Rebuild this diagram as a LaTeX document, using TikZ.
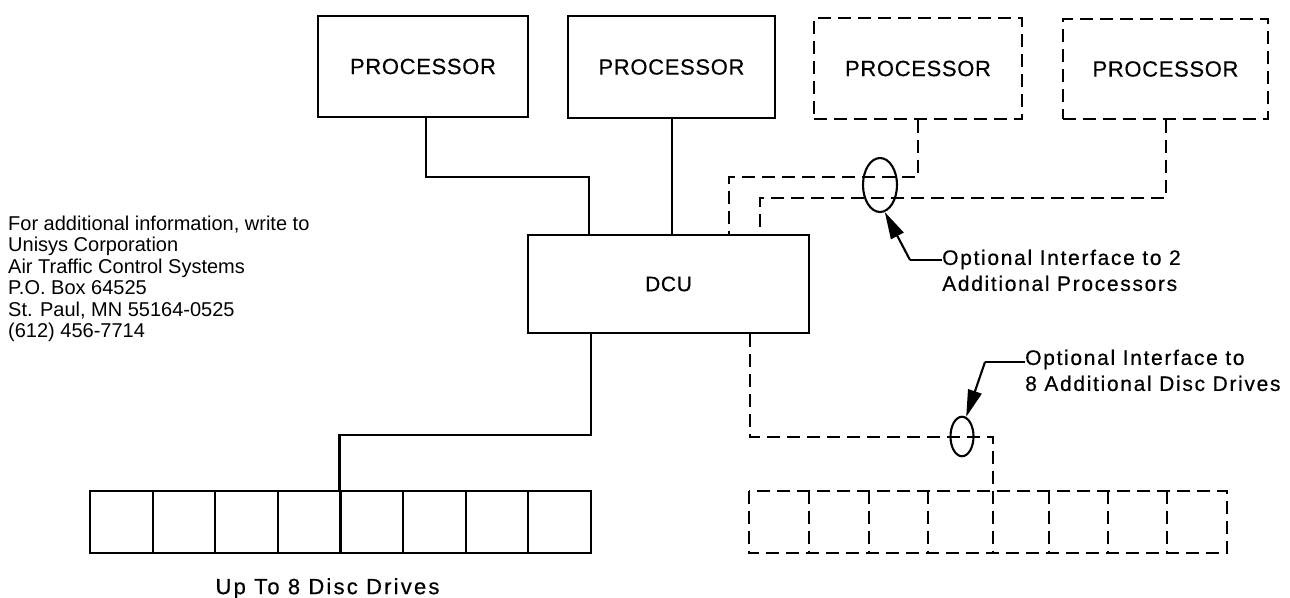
\documentclass[tikz,border=0pt]{standalone}
\usepackage{fontspec}
\setmainfont{Liberation Sans}
\newfontfamily\lblfont[LetterSpace=8,FakeBold=0.5]{Liberation Sans}
\newfontfamily\capfont[LetterSpace=10,FakeBold=0.5]{Liberation Sans}
\newfontfamily\boxfont[LetterSpace=3,FakeBold=0.4]{Liberation Sans}
\usetikzlibrary{shapes.geometric,arrows.meta}
\begin{document}
\begin{tikzpicture}[x=1pt,y=-1pt,
  ln/.style={line width=2.1pt},
  dsh/.style={line width=2.1pt, dash pattern=on 13pt off 7pt},
  pbox/.style={ln, draw, rectangle, inner sep=0pt, font=\boxfont\fontsize{22}{26}\selectfont},
  dbox/.style={dsh, draw, rectangle, inner sep=0pt, font=\boxfont\fontsize{22}{26}\selectfont},
  oval/.style={ln, draw, ellipse, inner sep=0pt},
  disk/.style={rectangle, inner sep=0pt, minimum height=62pt},
  lbl/.style={inner sep=0pt, align=left, font=\lblfont\fontsize{21}{26}\selectfont},
  tip/.style={ln, -{Triangle[length=27pt,width=14pt]}}
]
\useasboundingbox (0,0) rectangle (1290,597);

% processors
\node[pbox, minimum width=210pt, minimum height=101pt] (p1) at (423,66.5) {PROCESSOR};
\node[pbox, minimum width=207pt, minimum height=102pt] (p2) at (671.5,67) {PROCESSOR};
\node[dbox, minimum width=208pt, minimum height=101pt] (p3) at (918,68.5) {PROCESSOR};
\node[dbox, minimum width=205pt, minimum height=100pt] (p4) at (1165.5,69) {PROCESSOR};

% DCU
\node[pbox, font=\boxfont\fontsize{21}{26}\selectfont, minimum width=281pt, minimum height=98pt] (dcu) at (668.5,284) {DCU};

% connectors processors -> DCU
\coordinate (k1) at (426,177);
\coordinate (k2) at (589,177);
\coordinate (k3) at (672,177);
\draw[ln] (p1.south -| k1) -- (k1) -- (k2) -- (dcu.north -| k2);
\draw[ln] (p2.south -| k3) -- (dcu.north -| k3);

\coordinate (d1) at (918,177);
\coordinate (d2) at (729,177);
\coordinate (d3) at (1166,198);
\coordinate (d4) at (760,198);
\draw[dsh] (p3.south -| d1) -- (d1) -- (d2) -- (dcu.north -| d2);
\draw[dsh] (p4.south -| d3) -- (d3) -- (d4) -- (dcu.north -| d4);

% interface ovals
\node[oval, minimum width=34pt, minimum height=54pt] (e1) at (880,185) {};
\node[oval, minimum width=23pt, minimum height=39.5pt] (e2) at (962,436.5) {};

% solid disc drives
\foreach \i in {1,...,8}
  \node[disk, draw, ln, minimum width=62.625pt] (s\i) at ({90+62.625*(\i-0.5)},522) {};

% dashed disc drives
\node[disk, minimum width=59.7pt] (r1) at (778.85,522) {};
\node[disk, minimum width=59.8pt] (r2) at (838.6,522) {};
\node[disk, minimum width=59.5pt] (r3) at (898.25,522) {};
\node[disk, minimum width=65pt] (r4) at (960.5,522) {};
\node[disk, minimum width=56pt] (r5) at (1021,522) {};
\node[disk, minimum width=59pt] (r6) at (1078.5,522) {};
\node[disk, minimum width=59pt] (r7) at (1137.5,522) {};
\node[disk, minimum width=60pt] (r8) at (1197,522) {};
\draw[dsh] (r1.north west) rectangle (r8.south east);
\foreach \i in {1,...,7}
  \draw[dsh] (r\i.north east) -- (r\i.south east);

% DCU -> disc drives
\coordinate (b1) at (591,435);
\draw[ln] (dcu.south -| b1) -- (b1) -- (b1 -| s5.north west) -- (s5.north west);
\coordinate (c1) at (750,437);
\draw[dsh] (dcu.south -| c1) -- (c1) -- (c1 -| r5.north west) -- (r5.north west);

% labels with arrows
\node[lbl, anchor=north west] (l1) at (942,249.5) {Optional Interface to 2\\Additional Processors};
\coordinate (a1) at (910,260);
\draw[ln] (l1.west |- a1) -- (a1);
\draw[tip] (a1) -- (e1.-80);

\node[lbl, anchor=north west] (l2) at (1025,349.5) {Optional Interface to\\8 Additional Disc Drives};
\coordinate (a2) at (985,362);
\draw[ln] (l2.west |- a2) -- (a2);
\draw[tip] (a2) -- (e2.78);

\node[inner sep=0pt, anchor=north, font=\capfont\fontsize{22}{26}\selectfont] (l3) at (327.5,578) {Up To 8 Disc Drives};

% address
\node[inner sep=0pt, align=left, anchor=north west, font=\fontsize{20}{21.5}\selectfont] (addr) at (8,215.4)
  {For additional information, write to\\Unisys Corporation\\Air Traffic Control Systems\\P.O. Box 64525\\St. Paul, MN 55164-0525\\(612) 456-7714};
\end{tikzpicture}
\end{document}
